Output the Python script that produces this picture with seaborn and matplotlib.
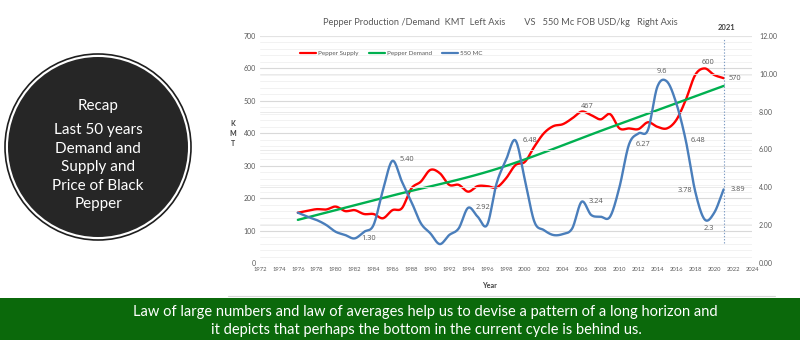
import numpy as np
import matplotlib
matplotlib.use("Agg")
import matplotlib.pyplot as plt
import seaborn as sns
from matplotlib.patches import Circle, Rectangle
from matplotlib.lines import Line2D
from matplotlib.ticker import MultipleLocator

# ---------------- data ----------------
years = list(range(1976, 2022))
supply = [155, 161, 166, 165, 174, 160, 163, 151, 151, 138,
          163, 169, 230, 251, 287, 277, 241, 241, 220, 237,
          237, 233, 261, 302, 312, 359, 400, 422, 428, 446,
          467, 456, 443, 459, 415, 415, 413, 434, 420, 415,
          441, 503, 580, 600, 580, 570]
price = [2.66, 2.45, 2.27, 2.01, 1.65, 1.48, 1.30, 1.65, 2.01, 3.86,
         5.40, 4.30, 3.24, 2.10, 1.57, 1.00, 1.48, 1.83, 2.92, 2.45,
         2.01, 4.20, 5.44, 6.48, 4.39, 2.18, 1.74, 1.48, 1.53, 1.83,
         3.24, 2.54, 2.45, 2.45, 4.03, 6.27, 6.85, 7.03, 9.32, 9.60,
         8.44, 6.48, 3.78, 2.30, 2.65, 3.89]
demand_years = [1976, 1986, 1997, 2009, 2021]
demand = [133, 208, 290, 418, 546]

x_ticks = list(range(1972, 2025, 2))
left_ticks = list(range(0, 701, 100))
right_ticks = [0, 2, 4, 6, 8, 10, 12]

supply_labels = {2006: "467", 2019: "600", 2021: "570"}
price_labels = {1982: "1.30", 1986: "5.40", 1994: "2.92", 1999: "6.48",
                2006: "3.24", 2011: "6.27", 2015: "9.6", 2017: "6.48",
                2018: "3.78", 2019: "2.3", 2021: "3.89"}

title = "Pepper Production /Demand  KMT  Left Axis        VS   550 Mc FOB USD/kg   Right Axis"
circle_lines = ["Recap", "Last 50 years", "Demand and", "Supply and", "Price of Black", "Pepper"]
banner_lines = ["Law of large numbers and law of averages help us to devise a pattern of a long horizon and",
                "it depicts that perhaps the bottom in the current cycle is behind us."]

RED, GREEN, BLUE = "#ff0000", "#00b050", "#4a7ebb"
GRAY = "#595959"

sns.set_theme(style="white")
plt.rcParams["font.family"] = ["Lato", "DejaVu Sans"]


def smooth(xs, ys, n=24):
    P = np.column_stack([np.asarray(xs, float), np.asarray(ys, float)])
    P = np.vstack([2 * P[0] - P[1], P, 2 * P[-1] - P[-2]])
    t = np.linspace(0, 1, n, endpoint=False)[:, None]
    out = []
    for i in range(1, len(P) - 2):
        p0, p1, p2, p3 = P[i - 1], P[i], P[i + 1], P[i + 2]
        seg = 0.5 * (2 * p1 + (-p0 + p2) * t + (2 * p0 - 5 * p1 + 4 * p2 - p3) * t ** 2
                     + (-p0 + 3 * p1 - 3 * p2 + p3) * t ** 3)
        out.append(seg)
    out.append(P[-2][None, :])
    a = np.vstack(out)
    return a[:, 0], a[:, 1]


fig = plt.figure(figsize=(8, 3.47), dpi=100)
W, H = 800, 347

# background / decoration layer in pixel coordinates
bg = fig.add_axes([0, 0, 1, 1])
bg.set_xlim(0, W)
bg.set_ylim(H, 0)
bg.axis("off")

bg.add_patch(Circle((98, 147), 93, facecolor="white", edgecolor="#1e1e1e", lw=1.2))
bg.add_patch(Circle((98, 147), 90, facecolor="#262626", edgecolor="none"))
for i, s in enumerate(circle_lines):
    yy = 106 if i == 0 else 130 + (i - 1) * 18.5
    bg.text(98, yy, s, color="white", fontsize=11, ha="center", va="center")

bg.plot([228, 775], [296, 296], color="#d8d8d8", lw=0.8)
bg.add_patch(Rectangle((0, 298), 800, 42, facecolor="#0b690b", edgecolor="none"))
bg.text(425, 312, banner_lines[0], color="white", fontsize=10.5, ha="center", va="center")
bg.text(426, 330, banner_lines[1], color="white", fontsize=10.5, ha="center", va="center")

bg.text(500, 22, title, color=GRAY, fontsize=6.7, ha="center", va="center")
bg.text(233, 133, "K\nM\nT", color="#404040", fontsize=5, ha="center", va="center",
        linespacing=1.5, fontweight="bold")
bg.text(489, 285, "Year", color="#404040", fontsize=5.2, ha="center", va="center", fontweight="bold")
bg.text(726, 27, "2021", color="#404040", fontsize=5.5, ha="center", va="center", fontweight="bold")

# chart
ax = fig.add_axes([260 / W, 1 - 263 / H, (752 - 260) / W, (263 - 36) / H])
ax.set_facecolor("none")
ax2 = ax.twinx()

ax.set_xlim(1972, 2024)
ax.set_ylim(0, 700)
ax2.set_ylim(0, 12)

ax.yaxis.set_minor_locator(MultipleLocator(20))
ax.grid(which="minor", axis="y", color="#f0f0f0", lw=0.6)
ax.grid(which="major", axis="y", color="#d9d9d9", lw=0.8)
ax.grid(axis="x", visible=False)
ax2.grid(axis="y", color="#e6e6e6", lw=0.6)
ax.set_axisbelow(True)

for a in (ax, ax2):
    for sp in a.spines.values():
        sp.set_visible(False)

ax.set_xticks(x_ticks)
ax.set_xticklabels([str(v) for v in x_ticks], fontsize=4.2, color=GRAY)
ax.set_yticks(left_ticks)
ax.set_yticklabels([str(v) for v in left_ticks], fontsize=5, color=GRAY)
ax2.set_yticks(right_ticks)
ax2.set_yticklabels([f"{v:.2f}" for v in right_ticks], fontsize=5, color=GRAY)
ax.tick_params(axis="both", which="both", length=0, pad=3)
ax2.tick_params(axis="y", which="both", length=0, pad=5)
ax.set_xlabel("")
ax.set_ylabel("")
ax2.set_ylabel("")

sx, sy = smooth(years, supply)
sns.lineplot(x=sx, y=sy, ax=ax, color=RED, lw=1.7, sort=False, estimator=None)
dx_, dy_ = smooth(demand_years, demand)
sns.lineplot(x=dx_, y=dy_, ax=ax, color=GREEN, lw=1.7, sort=False, estimator=None)
px_, py_ = smooth(years, price)
sns.lineplot(x=px_, y=py_, ax=ax2, color=BLUE, lw=1.7, sort=False, estimator=None)

ax2.axvline(2021, ymin=0.088, ymax=0.99, color="#7f9cc4", lw=0.8, ls=(0, (1.2, 1.6)))

P = 0.72  # pixels -> points
lab = dict(fontsize=5.3, color=GRAY, textcoords="offset points", va="center",
           family=["Open Sans", "DejaVu Sans"])
sp = dict(zip(years, supply))
pp = dict(zip(years, price))
offs_s = {2006: (5, 5.5, "center"), 2019: (3, 5.5, "center"), 2021: (5, 0, "left")}
for yr, s in supply_labels.items():
    ox, oy, ha = offs_s[yr]
    ax.annotate(s, (yr, sp[yr]), xytext=(ox * P, oy * P), ha=ha, **lab)
offs_p = {1982: (7, 0, "left"), 1986: (7, 1, "left"), 1994: (7, 0, "left"),
          1999: (7, 0, "left"), 2006: (7, 0, "left"), 2011: (7, 0, "left"),
          2015: (-5, 9.5, "center"), 2017: (5, 0, "left"), 2018: (-3, 1, "right"),
          2019: (4, -9, "center"), 2021: (7, 0, "left")}
for yr, s in price_labels.items():
    ox, oy, ha = offs_p[yr]
    ax2.annotate(s, (yr, pp[yr]), xytext=(ox * P, oy * P), ha=ha, **lab)

handles = [Line2D([], [], color=c, lw=1.6) for c in (RED, GREEN, BLUE)]
leg = ax2.legend(handles, ["Pepper Supply", "Pepper Demand", "550 MC"], ncol=3,
                 frameon=False, fontsize=4.5, handlelength=2.6, handletextpad=0.3,
                 columnspacing=1.6, loc="center left",
                 bbox_to_anchor=(300 / W, 1 - 53 / H), bbox_transform=fig.transFigure,
                 borderaxespad=0, borderpad=0)
for t in leg.get_texts():
    t.set_color(GRAY)

fig.savefig("out.png", dpi=100)
